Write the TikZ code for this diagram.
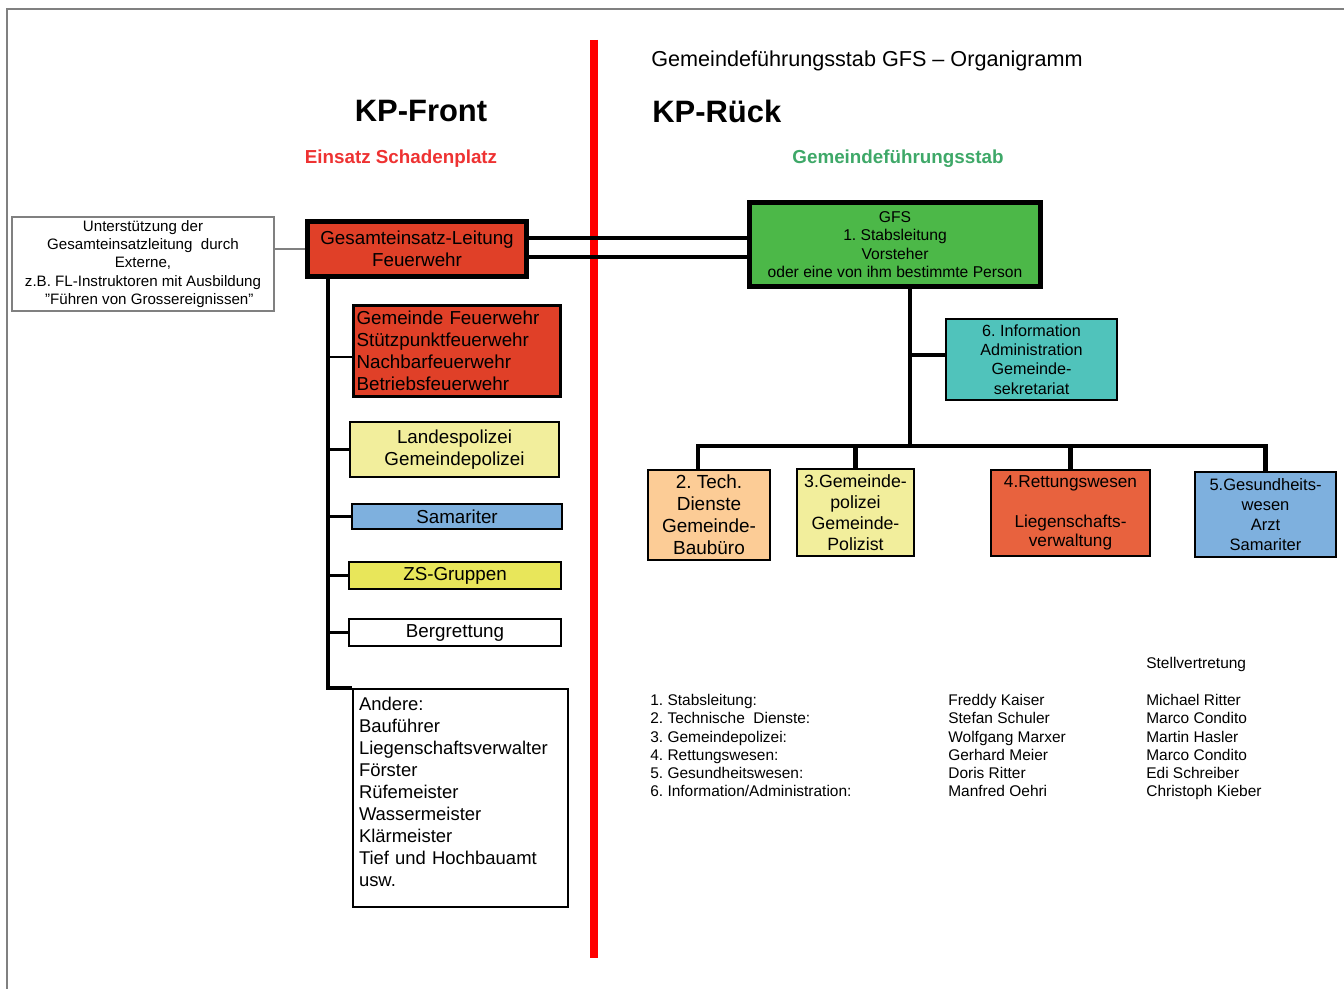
\documentclass[tikz,border=0pt]{standalone}
\usepackage{fontspec}
\setmainfont{Liberation Sans}
\usepackage{tikz}
\frenchspacing
\definecolor{feuerrot}{RGB}{224,64,40}
\definecolor{rettungsrot}{RGB}{232,98,62}
\definecolor{hellgelb}{RGB}{242,238,156}
\definecolor{zsgelb}{RGB}{232,230,90}
\definecolor{samblau}{RGB}{126,176,222}
\definecolor{gfsgruen}{RGB}{76,184,72}
\definecolor{tuerkis}{RGB}{80,195,187}
\definecolor{pfirsich}{RGB}{252,204,150}
\definecolor{titelrot}{RGB}{238,50,50}
\definecolor{titelgruen}{RGB}{62,168,104}
\tikzset{
	box/.style      = {draw, rectangle, line width=1.2pt, inner sep=2pt, align=center,
		font=\fontsize{10.7}{12.5}\selectfont},
	leadbox/.style  = {box, line width=2.8pt},
	listbox/.style  = {box, align=left},
	note/.style     = {draw=gray, rectangle, line width=0.6pt, align=center, inner sep=0pt,
		font=\fontsize{8.6}{10.5}\selectfont},
	heading/.style  = {inner sep=0pt},
	roster/.style   = {align=left, inner sep=0pt, anchor=north west,
		font=\fontsize{8.8}{10.4}\selectfont},
	link/.style     = {line width=2.3pt},
	branch/.style   = {line width=1.7pt},
}

\begin{document}
\begin{tikzpicture}[ x=0.2mm,                      %<--one unit is one pixel of the sheet
					y=-0.2mm,                      %<--y counts downwards, like the sheet
					line join=miter ]              %<--square corners on the branches

	\useasboundingbox (0,0) rectangle (1344,989);

	%Drawing the sheet frame and the divider:
	\draw[gray, line width=0.8pt] (7,989) -- (7,9) -- (1344,9);
	\draw[red, line width=4.5pt] (594,40) -- (594,958);

	\draw%-----------------------------------------------------------------------------------------
	%Drawing the Headings:
	node(title) at (651,61) [heading, anchor=west, font=\fontsize{12.3}{14}\selectfont]
		{Gemeindeführungsstab GFS -- Organigramm}
	node(front) at (421,111) [heading, font=\fontsize{17.6}{20}\selectfont\bfseries] {KP-Front}
	node(rueck) at (652,111) [heading, anchor=west, font=\fontsize{17.6}{20}\selectfont\bfseries] {KP-Rück}
	node(platz) at (401,159) [heading, text=titelrot, font=\fontsize{10.7}{12}\selectfont\bfseries]
		{Einsatz Schadenplatz}
	node(stab) at (898,159) [heading, text=titelgruen, font=\fontsize{10.7}{12}\selectfont\bfseries]
		{Gemeindeführungsstab}
	%Drawing the Front Blocks:
	node(extern) at (143,264) [note, minimum width=52.4mm, minimum height=18.8mm]
		{Unterstützung der\\Gesamteinsatzleitung\ \ durch\\Externe,\\z.B. FL-Instruktoren mit Ausbildung\\
		 \ \ \ "Führen von Grossereignissen"}
	node(gesamt) at (417,249) [leadbox, fill=feuerrot, minimum width=43.8mm, minimum height=11mm]
		{Gesamteinsatz-Leitung\\Feuerwehr}
	node(feuerwehr) at (457,351) [listbox, fill=feuerrot, line width=1.7pt, inner xsep=0.6mm,
		text width=40.2mm, minimum height=18.2mm]
		{Gemeinde Feuerwehr\\Stützpunktfeuerwehr\\Nachbarfeuerwehr\\Betriebsfeuerwehr}
	node(landes) at (454.5,449.5) [box, fill=hellgelb, minimum width=41.8mm, minimum height=11mm]
		{Landespolizei\\Gemeindepolizei}
	node(samariter) at (457,516.5) [box, fill=samblau, minimum width=42mm, minimum height=5mm] {Samariter}
	node(zs) at (455,575.5) [box, fill=zsgelb, minimum width=42.4mm, minimum height=5.4mm] {ZS-Gruppen}
	node(berg) at (455,632.5) [box, minimum width=42.4mm, minimum height=5.4mm] {Bergrettung}
	node(andere) at (460.5,798) [listbox, inner xsep=1.2mm, text width=40.6mm, minimum height=43.6mm,
		font=\fontsize{10.5}{12.5}\selectfont]
		{Andere:\\Bauführer\\Liegenschaftsverwalter\\Förster\\Rüfemeister\\Wassermeister\\
		 Klärmeister\\Tief und Hochbauamt\\usw.\\[-5.7pt]\mbox{}}
	%Drawing the Staff Blocks:
	node(gfs) at (895,244.5) [leadbox, fill=gfsgruen, minimum width=58.2mm, minimum height=16.8mm,
		font=\fontsize{8.9}{10.4}\selectfont]
		{GFS\\1. Stabsleitung\\Vorsteher\\oder eine von ihm bestimmte Person}
	node(info) at (1031.5,359.5) [box, fill=tuerkis, minimum width=34.2mm, minimum height=16.2mm,
		font=\fontsize{9.2}{11}\selectfont]
		{6. Information\\Administration\\Gemeinde-\\sekretariat}
	node(dienste) at (709,515) [box, fill=pfirsich, minimum width=24.4mm, minimum height=18mm,
		font=\fontsize{10.8}{12.5}\selectfont]
		{2. Tech.\\Dienste\\Gemeinde-\\Baubüro}
	node(polizei) at (855.5,512.5) [box, fill=hellgelb, minimum width=23.4mm, minimum height=17.4mm,
		font=\fontsize{10.1}{11.9}\selectfont]
		{3.Gemeinde-\\polizei\\Gemeinde-\\Polizist}
	node(rettung) at (1070.5,513) [box, fill=rettungsrot, minimum width=31.8mm, minimum height=17.2mm,
		font=\fontsize{9.8}{11.3}\selectfont]
		{4.Rettungswesen\\[11.3pt]Liegenschafts-\\verwaltung}
	node(gesundheit) at (1265.5,514.5) [box, fill=samblau, minimum width=28.2mm, minimum height=17mm,
		font=\fontsize{9.4}{11.3}\selectfont]
		{5.Gesundheits-\\wesen\\Arzt\\Samariter}
	%Drawing the Roster:
	node(vertretung) at (1146,657) [roster] {Stellvertretung}
	node(ressort) at (650,694) [roster]
		{1. Stabsleitung:\\2. Technische\ \ Dienste:\\3. Gemeindepolizei:\\4. Rettungswesen:\\
		 5. Gesundheitswesen:\\6. Information/Administration:}
	node(leiter) at (948,694) [roster]
		{Freddy Kaiser\\Stefan Schuler\\Wolfgang Marxer\\Gerhard Meier\\Doris Ritter\\Manfred Oehri}
	node(stellv) at (1146,694) [roster]
		{Michael Ritter\\Marco Condito\\Martin Hasler\\Marco Condito\\Edi Schreiber\\Christoph Kieber}
	;%---------------------------------------------------------------------------------------------

	%Drawing the Branch Points:
	\coordinate (spine) at (328,687);
	\coordinate (trunk) at (910,446);

	%Joining the Front Blocks
	\draw[gray, line width=0.6pt] (gesamt.west) -- (gesamt.west -| extern.east);
	\draw[link] ([yshift=2.2mm]gesamt.east) -- ([yshift=2.2mm]gesamt.east -| gfs.west);
	\draw[link] ([yshift=-1.6mm]gesamt.east) -- ([yshift=-1.6mm]gesamt.east -| gfs.west);
	\draw[link] (spine |- gesamt.south) |- (andere.north west);
	\draw[branch] ([yshift=-1.2mm]feuerwehr.west) -- ([yshift=-1.2mm]feuerwehr.west -| spine);
	\draw[branch] (landes.west) -- (landes.west -| spine);
	\draw[branch] (samariter.west) -- (samariter.west -| spine);
	\draw[branch] (zs.west) -- (zs.west -| spine);
	\draw[branch] (berg.west) -- (berg.west -| spine);

	%Joining the Staff Blocks
	\draw[link] (trunk |- gfs.south) -- (trunk);
	\draw[link] ([yshift=0.9mm]info.west) -- ([yshift=0.9mm]info.west -| trunk);
	\draw[link] ([xshift=-2.2mm]dienste.north) |- (trunk) -| (gesundheit.north);
	\draw[link] (polizei.north) -- (polizei.north |- trunk);
	\draw[link] (rettung.north) -- (rettung.north |- trunk);

\end{tikzpicture}
\end{document}
